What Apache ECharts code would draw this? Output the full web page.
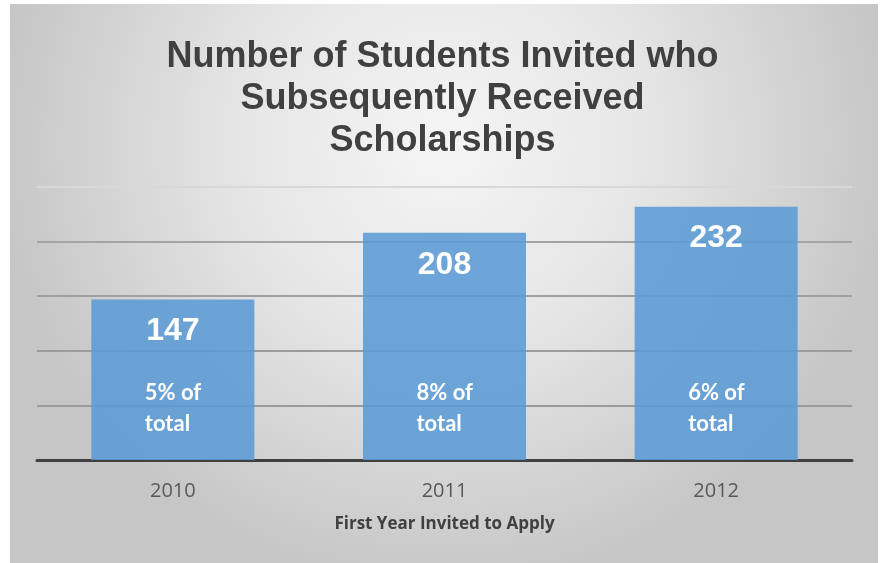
<!DOCTYPE html>
<html>
<head>
<meta charset="utf-8">
<script src="https://cdn.jsdelivr.net/npm/echarts@6/dist/echarts.min.js"></script>
<style>
html,body{margin:0;padding:0;background:#fff;}
#chart{width:885px;height:563px;}
</style>
</head>
<body>
<div id="chart"></div>
<script>
const categories = ['2010', '2011', '2012'];
const students = [147, 208, 232];
const shareLabels = ['5% of\ntotal', '8% of\ntotal', '6% of\ntotal'];
const titleText = 'Number of Students Invited who\nSubsequently Received\nScholarships';
const xAxisTitle = 'First Year Invited to Apply';

const chart = echarts.init(document.getElementById('chart'), null, {renderer: 'canvas'});
chart.setOption({
  backgroundColor: '#ffffff',
  animation: false,
  graphic: [{
    type: 'rect',
    z: -100,
    silent: true,
    shape: {x: 10, y: 4, width: 868, height: 559},
    style: {
      fill: new echarts.graphic.RadialGradient(0.5, 0.25, 0.8, [
        {offset: 0, color: '#f5f5f5'},
        {offset: 0.45, color: '#e6e6e6'},
        {offset: 1, color: '#c6c6c6'}
      ])
    }
  }],
  title: {
    text: titleText,
    left: 'center',
    top: 31,
    textStyle: {
      fontFamily: 'Liberation Sans, Arial, sans-serif',
      fontWeight: 'bold',
      fontSize: 36,
      lineHeight: 42,
      color: '#404040'
    }
  },
  grid: {left: 37, right: 33, top: 187, bottom: 103, containLabel: false},
  xAxis: {
    type: 'category',
    data: categories,
    axisLine: {show: true, lineStyle: {color: '#404040', width: 3}},
    axisTick: {show: false},
    axisLabel: {
      margin: 21,
      fontFamily: 'Open Sans, sans-serif',
      fontSize: 20,
      color: '#595959'
    },
    name: xAxisTitle,
    nameLocation: 'middle',
    nameGap: 56,
    nameTextStyle: {
      fontFamily: 'Open Sans, sans-serif',
      fontWeight: 'bold',
      fontSize: 17,
      color: '#404040'
    }
  },
  yAxis: {
    type: 'value',
    min: 0,
    max: 250,
    interval: 50,
    axisLine: {show: false},
    axisTick: {show: false},
    axisLabel: {show: false},
    splitLine: {
      show: true,
      lineStyle: {color: ['#999999', '#9a9a9a', '#9c9c9c', '#a0a0a0', '#a4a4a4', '#d8d8d8'], width: 2}
    }
  },
  series: [{
    type: 'bar',
    data: students,
    barWidth: '60%',
    itemStyle: {color: 'rgba(91,155,213,0.88)'},
    label: {
      show: true,
      position: 'insideTop',
      distance: 16,
      fontFamily: 'Liberation Sans, Arial, sans-serif',
      fontWeight: 'bold',
      fontSize: 32,
      color: '#ffffff'
    }
  }, {
    type: 'bar',
    data: students,
    barWidth: '60%',
    barGap: '-100%',
    itemStyle: {color: 'rgba(0,0,0,0)'},
    label: {
      show: true,
      position: 'insideBottom',
      distance: 21,
      formatter: function (p) { return shareLabels[p.dataIndex]; },
      align: 'left',
      offset: [-28, 0],
      fontFamily: 'Lato, Open Sans, sans-serif',
      fontWeight: 'bold',
      fontSize: 22,
      lineHeight: 31,
      color: '#ffffff'
    }
  }]
});
</script>
</body>
</html>
